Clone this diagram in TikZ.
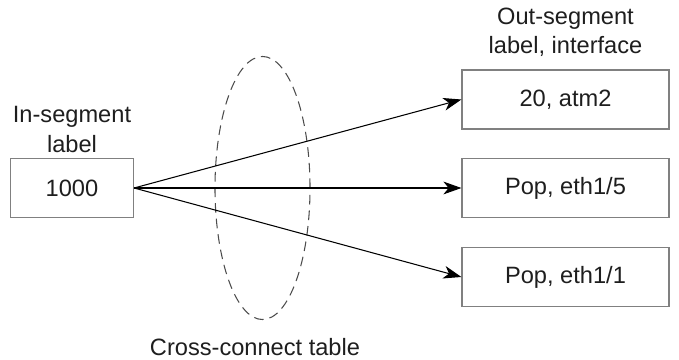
\documentclass[tikz,border=0pt]{standalone}
\usepackage{fontspec}
\setmainfont{Liberation Sans}
\usepackage{tikz}
\usetikzlibrary{arrows.meta,positioning,shapes.geometric}
\definecolor{boxgray}{RGB}{128,128,128}
\definecolor{textgray}{RGB}{30,30,30}
\tikzstyle{segbox}=[draw=boxgray,line width=0.8pt,rectangle,minimum height=1.475cm,inner sep=0pt,text=textgray]
\tikzstyle{caption}=[align=center,text=textgray]
\tikzstyle{edge} = [draw,line width=0.75pt,-{Stealth[length=0.45cm,width=0.32cm,inset=0.13cm]}]

\begin{document}
\begin{tikzpicture}[x=0.025cm,y=-0.025cm,font=\fontsize{16.8}{20.5}\selectfont]
				\useasboundingbox (0,0) rectangle (679,360);
				% First we draw the in-segment and the out-segments
				\node[segbox,minimum width=3.075cm] (in) at (72,188) {1000};
				\foreach \pos/\name/\lbl in {{(565.5,99.5)/atm/{20, atm2}}, {(565.5,188)/ethfive/{Pop, eth1/5}},
										{(565.5,277)/ethone/{Pop, eth1/1}}}
				\node[segbox,minimum width=5.175cm] (\name) at \pos {\lbl};

				% The cross-connect table
				\node[draw=black!70,dashed,dash pattern=on 0.24cm off 0.15cm,line width=0.75pt,ellipse,
					minimum width=2.375cm,minimum height=6.575cm,inner sep=0pt] (xtable) at (262.5,188) {};

				% Labels
				\node[caption,above=0pt of in,font=\fontsize{16.8}{21.3}\selectfont] (inlabel) {In-segment\\label};
				\node[caption,above=0.2cm of atm] (outlabel) {Out-segment\\label, interface};
				\node[caption] (xlabel) at (255,347) {Cross-connect table};

				% Connect the in-segment with each out-segment
				\foreach \dest in {atm, ethfive, ethone}
				\path[edge] (in.east) -- (\dest.west);
			\end{tikzpicture}
\end{document}
